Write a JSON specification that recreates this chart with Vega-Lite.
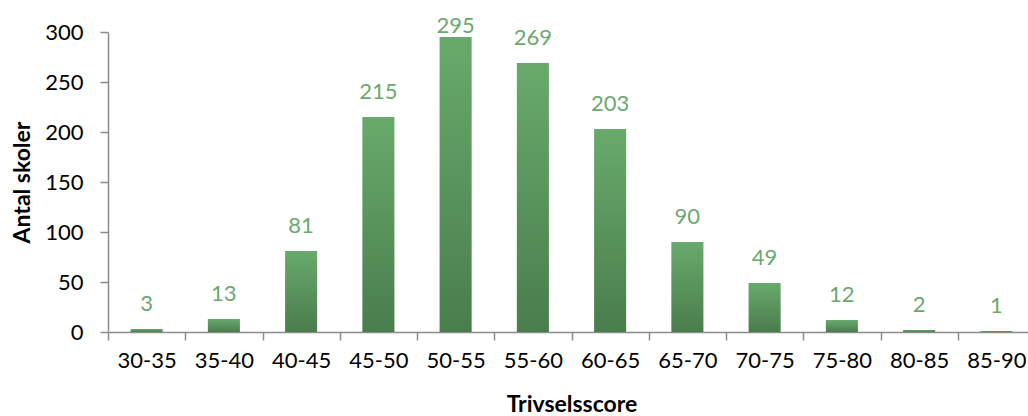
{
  "$schema": "https://vega.github.io/schema/vega-lite/v6.json",
  "width": 927,
  "height": 300,
  "autosize": "none",
  "padding": {"left": 108, "top": 32, "right": 0, "bottom": 84},
  "background": "white",
  "config": {
    "view": {"stroke": null},
    "font": "Lato",
    "axis": {
      "labelFont": "Lato",
      "labelFontSize": 22,
      "labelColor": "#000000",
      "titleFont": "Lato",
      "titleFontSize": 23,
      "titleFontWeight": "bold",
      "titleColor": "#000000",
      "domainColor": "#8c8c8c",
      "tickColor": "#8c8c8c",
      "domainWidth": 1.5,
      "tickWidth": 1.5,
      "tickSize": 8,
      "grid": false
    }
  },
  "data": {
    "values": [
      {"score": "30-35", "n": 3},
      {"score": "35-40", "n": 13},
      {"score": "40-45", "n": 81},
      {"score": "45-50", "n": 215},
      {"score": "50-55", "n": 295},
      {"score": "55-60", "n": 269},
      {"score": "60-65", "n": 203},
      {"score": "65-70", "n": 90},
      {"score": "70-75", "n": 49},
      {"score": "75-80", "n": 12},
      {"score": "80-85", "n": 2},
      {"score": "85-90", "n": 1}
    ]
  },
  "encoding": {
    "x": {
      "field": "score",
      "type": "nominal",
      "sort": null,
      "scale": {"paddingInner": 0, "paddingOuter": 0},
      "axis": {
        "title": "Trivselsscore",
        "labelAngle": 0,
        "tickBand": "extent",
        "labelPadding": 10,
        "titlePadding": 22
      }
    }
  },
  "layer": [
    {
      "mark": {
        "type": "bar",
        "width": {"band": 0.415},
        "color": {
          "gradient": "linear",
          "x1": 0, "y1": 0, "x2": 0, "y2": 1,
          "stops": [
            {"offset": 0, "color": "#68aa6c"},
            {"offset": 1, "color": "#4a7d4c"}
          ]
        }
      },
      "encoding": {
        "y": {
          "field": "n",
          "type": "quantitative",
          "scale": {"domain": [0, 300], "nice": false},
          "axis": {
            "title": "Antal skoler",
            "values": [0, 50, 100, 150, 200, 250, 300],
            "labelPadding": 17,
            "titlePadding": 10
          }
        }
      }
    },
    {
      "mark": {
        "type": "text",
        "dy": -18,
        "baseline": "alphabetic",
        "font": "Lato",
        "fontSize": 22,
        "color": "#6aa86e"
      },
      "encoding": {
        "y": {
          "field": "n",
          "type": "quantitative",
          "scale": {"domain": [0, 281], "range": [300, 19], "clamp": true, "nice": false, "zero": false},
          "axis": null
        },
        "text": {"field": "n", "type": "quantitative"}
      }
    }
  ],
  "resolve": {"scale": {"y": "independent"}}
}
